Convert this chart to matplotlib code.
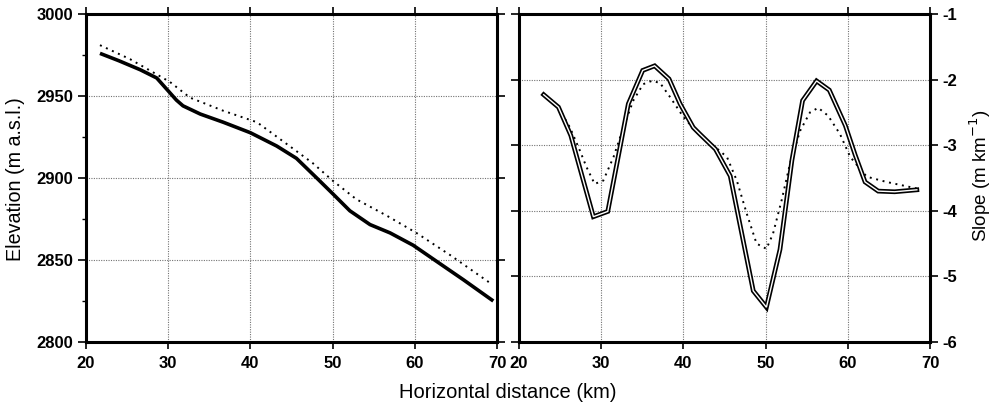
import matplotlib
matplotlib.use("Agg")
import matplotlib.pyplot as plt
from matplotlib.ticker import MultipleLocator

plt.rcParams['font.family'] = ['Liberation Sans', 'DejaVu Sans']
plt.rcParams['axes.unicode_minus'] = False

# ---- data: elevation profile (left panel) ----
elev_solid_x = [21.7, 24.0, 26.6, 28.6, 30.2, 31.0, 31.8, 33.9, 36.7, 40.0, 43.2, 45.6,
                48.07, 50.1, 52.1, 54.55, 57.0, 59.8, 62.7, 65.9, 69.55]
elev_solid_y = [2976.0, 2971.5, 2966.0, 2961.0, 2952.0, 2947.5, 2944.0, 2939.0, 2934.0,
                2927.6, 2919.5, 2912.0, 2900.0, 2890.0, 2880.0, 2871.6, 2866.5, 2859.0,
                2849.0, 2838.0, 2825.0]
elev_dot_x = [21.7, 25.35, 30.2, 32.65, 36.7, 40.8, 45.3, 47.6, 50.1, 52.9, 56.6, 60.2,
              64.3, 69.15]
elev_dot_y = [2981.0, 2972.5, 2958.6, 2949.0, 2941.0, 2934.0, 2917.5, 2909.0, 2898.0,
              2887.0, 2877.0, 2866.5, 2853.0, 2836.0]

# ---- data: slope profile (right panel) ----
slope_solid_x = [23.0, 24.8, 26.3, 29.05, 30.8, 33.3, 35.05, 36.5, 38.25, 39.6, 41.2,
                 42.0, 43.9, 45.7, 48.5, 50.1, 51.75, 53.2, 54.5, 56.2, 57.75, 59.7,
                 60.9, 62.1, 63.7, 65.7, 68.4]
slope_solid_y = [-2.23, -2.42, -2.85, -4.09, -4.01, -2.37, -1.86, -1.79, -1.99, -2.37,
                 -2.73, -2.83, -3.06, -3.47, -5.22, -5.47, -4.59, -3.23, -2.32, -2.02,
                 -2.16, -2.70, -3.15, -3.56, -3.70, -3.71, -3.68]
slope_dot_x = [23.0, 25.0, 26.2, 27.4, 28.2, 29.2, 30.25, 31.5, 32.7, 33.9, 35.1, 36.15,
               37.15, 38.4, 40.0, 42.0, 43.6, 45.3, 46.5, 47.7, 48.9, 50.1, 50.9, 51.95,
               52.97, 54.2, 55.4, 56.4, 57.6, 59.05, 60.3, 62.3, 64.7, 68.4]
slope_dot_y = [-2.23, -2.47, -2.73, -3.08, -3.33, -3.59, -3.54, -3.18, -2.73, -2.32,
               -2.07, -2.02, -2.05, -2.27, -2.57, -2.85, -3.0, -3.18, -3.54, -4.04,
               -4.50, -4.58, -4.35, -3.84, -3.28, -2.78, -2.50, -2.43, -2.55, -2.83,
               -3.18, -3.48, -3.56, -3.66]

x_ticks = [20, 30, 40, 50, 60, 70]
elev_ticks = [2800, 2850, 2900, 2950, 3000]
slope_ticks = [-6, -5, -4, -3, -2, -1]

fig = plt.figure(figsize=(9.96, 4.08), dpi=100)
axL = fig.add_axes([86/996, 1-342/408, 411/996, 328/408])
axR = fig.add_axes([519/996, 1-342/408, 411/996, 328/408])

dot_style = dict(color='black', lw=1.4, linestyle=(0, (1, 2.4)))
grid_style = dict(color='0.45', linestyle=(0, (1, 1.2)), linewidth=0.8)
tick_font = dict(fontsize=12, fontweight='bold')

# left panel
axL.plot(elev_dot_x, elev_dot_y, **dot_style)
axL.plot(elev_solid_x, elev_solid_y, color='black', lw=2.6, solid_capstyle='butt',
         solid_joinstyle='round')
axL.set_xlim(20, 70)
axL.set_ylim(2800, 3000)
axL.set_xticks(x_ticks)
axL.set_yticks(elev_ticks)
axL.yaxis.set_minor_locator(MultipleLocator(25))
axL.set_xticklabels([str(v) for v in x_ticks], **tick_font)
axL.set_yticklabels([str(v) for v in elev_ticks], **tick_font)
axL.tick_params(axis='y', which='major', direction='out', length=6, width=1.2, pad=3,
                right=True)
axL.tick_params(axis='y', which='minor', direction='out', length=3, width=1)
axL.tick_params(axis='x', direction='out', length=5, width=1.2, pad=5, top=True)
axL.grid(True, **grid_style)

# right panel
axR.plot(slope_dot_x, slope_dot_y, **dot_style)
axR.plot(slope_solid_x, slope_solid_y, color='black', lw=3.4, solid_joinstyle='miter')
axR.plot(slope_solid_x, slope_solid_y, color='white', lw=1.0, solid_joinstyle='miter')
axR.set_xlim(20, 70)
axR.set_ylim(-6, -1)
axR.set_xticks(x_ticks)
axR.set_yticks(slope_ticks)
axR.set_xticklabels([str(v) for v in x_ticks], **tick_font)
axR.set_yticklabels([str(v) for v in slope_ticks], **tick_font)
axR.yaxis.tick_right()
axR.tick_params(axis='y', direction='out', length=6, width=1.2, pad=3, left=True,
                labelleft=False)
axR.tick_params(axis='x', direction='out', length=5, width=1.2, pad=5, top=True)
axR.grid(True, **grid_style)

for ax in (axL, axR):
    for side, sp in ax.spines.items():
        sp.set_linewidth(2.2)
        sp.set_color('black')

fig.text(508/996, 1-392/408, 'Horizontal distance (km)', ha='center', va='center',
         fontsize=14.5)
fig.text(16/996, 1-179/408, 'Elevation (m a.s.l.)', ha='center', va='center',
         rotation=90, fontsize=14.2)
fig.text(980/996, 1-176/408, 'Slope (m km$^{-1}$)', ha='center', va='center',
         rotation=90, fontsize=13.5)

fig.savefig('out.png', dpi=100)
